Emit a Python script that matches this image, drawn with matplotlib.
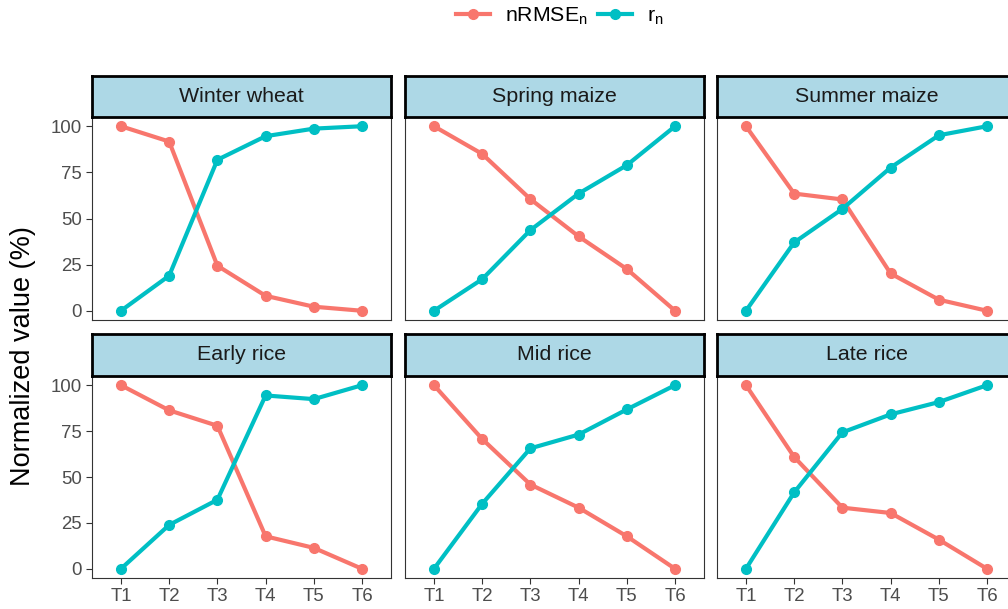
import matplotlib
matplotlib.use("Agg")
import matplotlib.pyplot as plt
from matplotlib.lines import Line2D

plt.rcParams['font.family'] = ['Liberation Sans', 'DejaVu Sans']
plt.rcParams['mathtext.fontset'] = 'custom'
plt.rcParams['mathtext.rm'] = 'Liberation Sans'

treatments = ["T1", "T2", "T3", "T4", "T5", "T6"]
crops = ["Winter wheat", "Spring maize", "Summer maize",
         "Early rice", "Mid rice", "Late rice"]

nrmse_winter_wheat = [100, 91.7, 24.4, 8.1, 2.2, 0]
r_winter_wheat = [0, 19.0, 81.8, 94.6, 98.7, 100]
nrmse_spring_maize = [100, 85.0, 60.5, 40.3, 22.6, 0]
r_spring_maize = [0, 17.1, 43.7, 63.5, 78.9, 100]
nrmse_summer_maize = [100, 63.5, 60.3, 20.2, 6.0, 0]
r_summer_maize = [0, 37.0, 55.2, 77.6, 95.1, 100]
nrmse_early_rice = [100, 86.3, 77.9, 17.7, 11.4, 0]
r_early_rice = [0, 23.9, 37.6, 94.4, 92.4, 100]
nrmse_mid_rice = [100, 70.7, 45.9, 33.3, 17.7, 0]
r_mid_rice = [0, 35.4, 65.6, 73.1, 86.8, 100]
nrmse_late_rice = [100, 60.9, 33.3, 30.4, 15.9, 0]
r_late_rice = [0, 41.6, 74.3, 84.1, 90.8, 100]

nrmse_all = [nrmse_winter_wheat, nrmse_spring_maize, nrmse_summer_maize,
             nrmse_early_rice, nrmse_mid_rice, nrmse_late_rice]
r_all = [r_winter_wheat, r_spring_maize, r_summer_maize,
         r_early_rice, r_mid_rice, r_late_rice]

C_NRMSE = "#F8766D"
C_R = "#00BFC4"

W, H = 1008, 609
fig = plt.figure(figsize=(W / 100, H / 100), dpi=100)

col_left = [92, 405, 717]
pw = 299
rows = [dict(strip_top=76, panel_top=117, panel_bot=320),
        dict(strip_top=334, panel_top=376, panel_bot=578)]

def fx(x):
    return x / W

def fy(y):
    return 1 - y / H

xs = list(range(1, 7))
for i, crop in enumerate(crops):
    r = i // 3
    c = i % 3
    row = rows[r]
    left = col_left[c]
    ax = fig.add_axes([fx(left), fy(row['panel_bot']), pw / W,
                       (row['panel_bot'] - row['panel_top']) / H])
    ax.plot(xs, nrmse_all[i], color=C_NRMSE, lw=3.0, marker='o', ms=7.0,
            solid_capstyle='butt', zorder=3)
    ax.plot(xs, r_all[i], color=C_R, lw=3.0, marker='o', ms=7.0,
            solid_capstyle='butt', zorder=3)
    ax.set_xlim(0.4, 6.6)
    ax.set_ylim(-5, 105)
    ax.set_xticks(xs)
    ax.set_yticks([0, 25, 50, 75, 100])
    for s in ax.spines.values():
        s.set_color('#333333')
        s.set_linewidth(0.8)
    ax.tick_params(colors='#333333', labelcolor='#4D4D4D', labelsize=13.4,
                   length=4.2, width=0.8, pad=3)
    if c == 0:
        ax.set_yticklabels(["0", "25", "50", "75", "100"])
    else:
        ax.tick_params(axis='y', left=False, labelleft=False)
    if r == 1:
        ax.set_xticklabels(treatments)
    else:
        ax.tick_params(axis='x', bottom=False, labelbottom=False)

    sax = fig.add_axes([fx(left), fy(row['panel_top']), pw / W,
                        (row['panel_top'] - row['strip_top']) / H])
    sax.set_facecolor('#ADD8E6')
    sax.set_xticks([])
    sax.set_yticks([])
    for s in sax.spines.values():
        s.set_color('black')
        s.set_linewidth(2.0)
    sax.text(0.5, 0.5, crop, ha='center', va='center', fontsize=15.4,
             color='#1A1A1A', transform=sax.transAxes)

fig.text(fx(23), fy(356), "Normalized value (%)", rotation=90,
         ha='center', va='center', fontsize=19.5, color='black')

handles = [Line2D([], [], color=C_NRMSE, lw=3.0, marker='o', ms=7.0),
           Line2D([], [], color=C_R, lw=3.0, marker='o', ms=7.0)]
labels = [r"nRMSE$_{\mathregular{n}}$", r"r$_{\mathregular{n}}$"]
fig.legend(handles, labels, loc='center', bbox_to_anchor=(fx(560), fy(16)),
           ncol=2, frameon=False, fontsize=15.3, handlelength=1.6,
           handletextpad=0.7, columnspacing=0.5, borderaxespad=0)

fig.savefig("out.png", dpi=100)
